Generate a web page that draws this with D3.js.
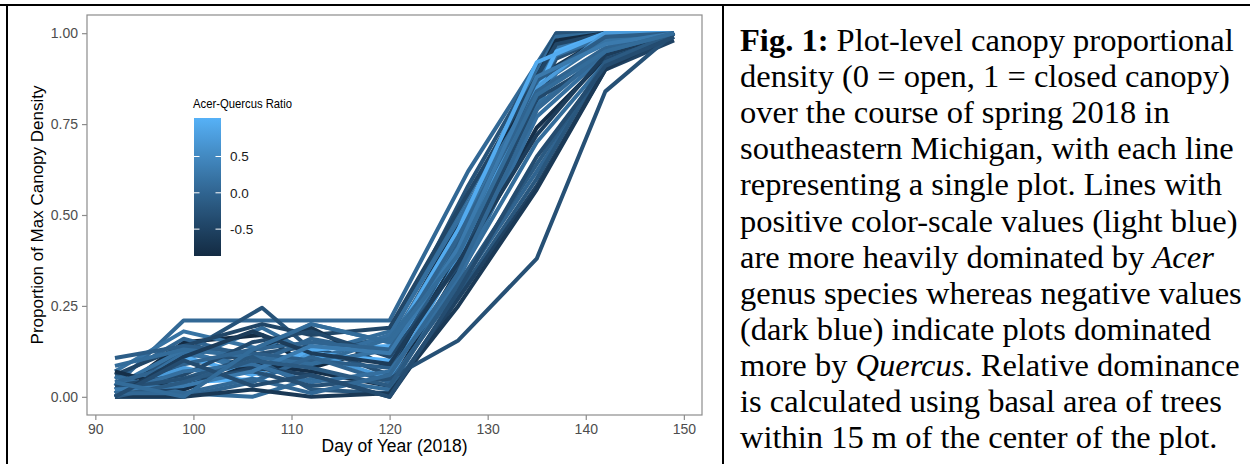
<!DOCTYPE html>
<html>
<head>
<meta charset="utf-8">
<script src="https://cdn.jsdelivr.net/npm/d3@7"></script>
<style>
  html, body { margin: 0; padding: 0; background: #fff; }
  svg { display: block; }
</style>
</head>
<body>
<svg id="chart" width="1250" height="464"></svg>
<script>
// ---------------- DATA ----------------
const scheduleA = [92, 99, 106, 112, 120, 127, 135, 142, 149];
const scheduleB = [92, 99, 107, 112, 120, 128, 137, 142, 149];

const plotRatios = [
  0.05, -0.25, 0.1, -0.87, 0.2, -0.3, 0.0, -0.45, 0.15, -0.7, 1.03, 0.2,
  0.95, 0.75, -0.1, 0.1, -0.8, 0.1, -0.4, 0.0, -0.2, -0.5, -0.65, 0.15,
  -0.3, 0.0, -0.6, 0.3, -0.15, 0.05, -0.35, 0.1
];
const plotSchedules = [
  "B","B","B","B","B","B","B","B","B","B","B","B",
  "A","A","A","A","A","A","A","A","A","A","A","A",
  "A","A","A","A","A","A","A","A"
];
const plotValues = [
  [0.03,0.21,0.21,0.21,0.21,0.62,1.00,1.00,1.00],
  [0.02,0.12,0.245,0.13,0.16,0.58,1.00,1.00,1.00],
  [0.00,0.10,0.19,0.12,0.18,0.55,0.99,1.00,1.00],
  [0.01,0.15,0.17,0.08,0.14,0.52,0.98,1.00,0.99],
  [0.07,0.18,0.13,0.20,0.15,0.50,0.96,1.00,1.00],
  [0.00,0.09,0.12,0.14,0.06,0.48,0.93,0.99,1.00],
  [0.05,0.16,0.10,0.16,0.12,0.40,0.90,0.98,1.00],
  [0.06,0.14,0.20,0.17,0.19,0.56,0.97,1.00,1.00],
  [0.00,0.12,0.08,0.10,0.17,0.53,0.94,0.99,1.00],
  [0.01,0.02,0.14,0.19,0.08,0.43,0.91,0.99,1.00],
  [0.02,0.04,0.05,0.12,0.10,0.45,0.95,1.00,1.00],
  [0.03,0.13,0.06,0.09,0.13,0.47,0.89,0.98,1.00],
  [0.00,0.11,0.06,0.13,0.14,0.46,0.92,1.00,1.00],
  [0.01,0.08,0.04,0.12,0.05,0.38,0.85,1.00,1.00],
  [0.107,0.14,0.12,0.10,0.08,0.42,0.87,0.99,1.00],
  [0.085,0.13,0.11,0.09,0.16,0.40,0.80,0.95,1.00],
  [0.07,0.02,0.09,0.07,0.03,0.35,0.74,0.93,1.00],
  [0.055,0.01,0.00,0.05,0.02,0.33,0.70,0.92,0.99],
  [0.03,0.06,0.15,0.18,0.11,0.36,0.82,0.93,1.00],
  [0.00,0.00,0.04,0.11,0.04,0.30,0.62,0.91,1.00],
  [0.02,0.05,0.11,0.02,0.01,0.28,0.60,0.92,1.00],
  [0.00,0.03,0.08,0.06,0.00,0.27,0.58,0.90,0.98],
  [0.00,0.00,0.02,0.00,0.01,0.25,0.57,0.90,1.00],
  [0.01,0.07,0.09,0.04,0.07,0.32,0.77,0.94,1.00],
  [0.02,0.05,0.07,0.03,0.05,0.155,0.38,0.84,1.00],
  [0.04,0.09,0.13,0.15,0.13,0.44,0.84,0.96,1.00],
  [0.00,0.11,0.18,0.12,0.09,0.37,0.72,0.94,1.00],
  [0.02,0.03,0.07,0.14,0.12,0.41,0.88,0.97,1.00],
  [0.00,0.04,0.10,0.08,0.03,0.31,0.64,0.92,1.00],
  [0.01,0.01,0.05,0.01,0.06,0.34,0.79,0.95,1.00],
  [0.00,0.10,0.03,0.06,0.00,0.29,0.66,0.91,0.99],
  [0.04,0.00,0.13,0.20,0.15,0.39,0.83,0.95,1.00]
];

const xTicks = [90, 100, 110, 120, 130, 140, 150];
const yTicks = [0, 0.25, 0.5, 0.75, 1.0];
const legendTicks = [-0.5, 0.0, 0.5];

const xTitle = "Day of Year (2018)";
const yTitle = "Proportion of Max Canopy Density";
const legendTitle = "Acer-Quercus Ratio";

const captionLines = [
  [{t:"Fig. 1:", b:true}, {t:" Plot-level canopy proportional"}],
  [{t:"density (0 = open, 1 = closed canopy)"}],
  [{t:"over the course of spring 2018 in"}],
  [{t:"southeastern Michigan, with each line"}],
  [{t:"representing a single plot. Lines with"}],
  [{t:"positive color-scale values (light blue)"}],
  [{t:"are more heavily dominated by "}, {t:"Acer", i:true}],
  [{t:"genus species whereas negative values"}],
  [{t:"(dark blue) indicate plots dominated"}],
  [{t:"more by "}, {t:"Quercus", i:true}, {t:". Relative dominance"}],
  [{t:"is calculated using basal area of trees"}],
  [{t:"within 15 m of the center of the plot."}]
];

// ---------------- DRAW ----------------
const svg = d3.select("#chart");
svg.append("rect").attr("width", 1250).attr("height", 464).attr("fill", "#fff");

// table frame
svg.append("rect").attr("x", 0).attr("y", 4).attr("width", 1250).attr("height", 2).attr("fill", "#000");
svg.append("rect").attr("x", 6).attr("y", 4).attr("width", 2).attr("height", 460).attr("fill", "#000");
svg.append("rect").attr("x", 722).attr("y", 4).attr("width", 2).attr("height", 460).attr("fill", "#000");

const panel = {left: 87, right: 702, top: 15, bottom: 415};
const allDays = scheduleA.concat(scheduleB);
const dMin = d3.min(allDays), dMax = d3.max(allDays);
const dPad = (dMax - dMin) * 0.05;
const x = d3.scaleLinear().domain([dMin - dPad, dMax + dPad]).range([panel.left, panel.right]);
const y = d3.scaleLinear().domain([-0.05, 1.05]).range([panel.bottom, panel.top]);

const cExt = d3.extent(plotRatios);
const color = d3.scaleLinear().domain(cExt).range(["#132B43", "#56B1F7"]).interpolate(d3.interpolateLab);

// lines
const series = plotValues.map((vals, i) => {
  const days = plotSchedules[i] === "A" ? scheduleA : scheduleB;
  return {ratio: plotRatios[i], pts: vals.map((v, j) => [days[j], v])};
});
const line = d3.line().x(d => x(d[0])).y(d => y(d[1]));
svg.append("g").selectAll("path").data(series).join("path")
  .attr("d", d => line(d.pts))
  .attr("fill", "none")
  .attr("stroke", d => color(d.ratio))
  .attr("stroke-width", 4)
  .attr("stroke-linejoin", "round");

// panel border
svg.append("rect")
  .attr("x", panel.left).attr("y", panel.top)
  .attr("width", panel.right - panel.left).attr("height", panel.bottom - panel.top)
  .attr("fill", "none").attr("stroke", "#8c8c8c").attr("stroke-width", 1.2);

// axes
const xAxis = svg.append("g").attr("transform", `translate(0,${panel.bottom})`)
  .call(d3.axisBottom(x).tickValues(xTicks).tickSize(5).tickPadding(4).tickFormat(d3.format("d")));
const yAxis = svg.append("g").attr("transform", `translate(${panel.left},0)`)
  .call(d3.axisLeft(y).tickValues(yTicks).tickSize(5).tickPadding(4).tickFormat(d3.format(".2f")));
[xAxis, yAxis].forEach(a => {
  a.select(".domain").remove();
  a.selectAll(".tick line").attr("stroke", "#8c8c8c").attr("stroke-width", 1.2);
  a.selectAll(".tick text").attr("fill", "#4d4d4d")
    .style("font-family", "'Liberation Sans', Arial, sans-serif").style("font-size", "14px");
});

svg.append("text").attr("x", (panel.left + panel.right) / 2).attr("y", 452)
  .attr("text-anchor", "middle")
  .style("font-family", "'Liberation Sans', Arial, sans-serif").style("font-size", "17.5px")
  .attr("fill", "#000").text(xTitle);
svg.append("text")
  .attr("transform", `translate(43,${(panel.top + panel.bottom) / 2}) rotate(-90)`)
  .attr("text-anchor", "middle")
  .style("font-family", "'Liberation Sans', Arial, sans-serif").style("font-size", "17px")
  .attr("fill", "#000").text(yTitle);

// legend
const leg = {x: 194, y: 118, w: 27, h: 138};
const defs = svg.append("defs");
const grad = defs.append("linearGradient").attr("id", "cbar")
  .attr("x1", 0).attr("y1", 1).attr("x2", 0).attr("y2", 0);
d3.range(0, 1.0001, 0.05).forEach(t => {
  grad.append("stop").attr("offset", t)
    .attr("stop-color", color(cExt[0] + t * (cExt[1] - cExt[0])));
});
svg.append("text").attr("x", 193).attr("y", 108)
  .attr("textLength", 99).attr("lengthAdjust", "spacingAndGlyphs")
  .style("font-family", "'Liberation Sans', Arial, sans-serif").style("font-size", "13px")
  .attr("fill", "#000").text(legendTitle);
svg.append("rect").attr("x", leg.x).attr("y", leg.y).attr("width", leg.w).attr("height", leg.h)
  .attr("fill", "url(#cbar)");
const ly = d3.scaleLinear().domain(cExt).range([leg.y + leg.h, leg.y]);
const lt = svg.append("g").selectAll("g").data(legendTicks).join("g");
lt.append("line").attr("x1", leg.x).attr("x2", leg.x + 5.5)
  .attr("y1", d => ly(d)).attr("y2", d => ly(d)).attr("stroke", "#fff").attr("stroke-width", 1);
lt.append("line").attr("x1", leg.x + leg.w - 5.5).attr("x2", leg.x + leg.w)
  .attr("y1", d => ly(d)).attr("y2", d => ly(d)).attr("stroke", "#fff").attr("stroke-width", 1);
lt.append("text").attr("x", leg.x + leg.w + 9).attr("y", d => ly(d)).attr("dy", "0.35em")
  .style("font-family", "'Liberation Sans', Arial, sans-serif").style("font-size", "13.5px")
  .attr("fill", "#1a1a1a").text(d => d3.format(".1f")(d).replace("\u2212", "-"));

// caption
const cap = svg.append("g")
  .style("font-family", "'Liberation Serif', 'Times New Roman', serif").style("font-size", "32.5px")
  .attr("fill", "#000");
captionLines.forEach((ln, i) => {
  const t = cap.append("text").attr("x", 740).attr("y", 51 + i * 36.1).attr("xml:space", "preserve");
  ln.forEach(s => {
    const ts = t.append("tspan").text(s.t);
    if (s.b) ts.attr("font-weight", "bold");
    if (s.i) ts.attr("font-style", "italic");
  });
});
</script>
</body>
</html>
